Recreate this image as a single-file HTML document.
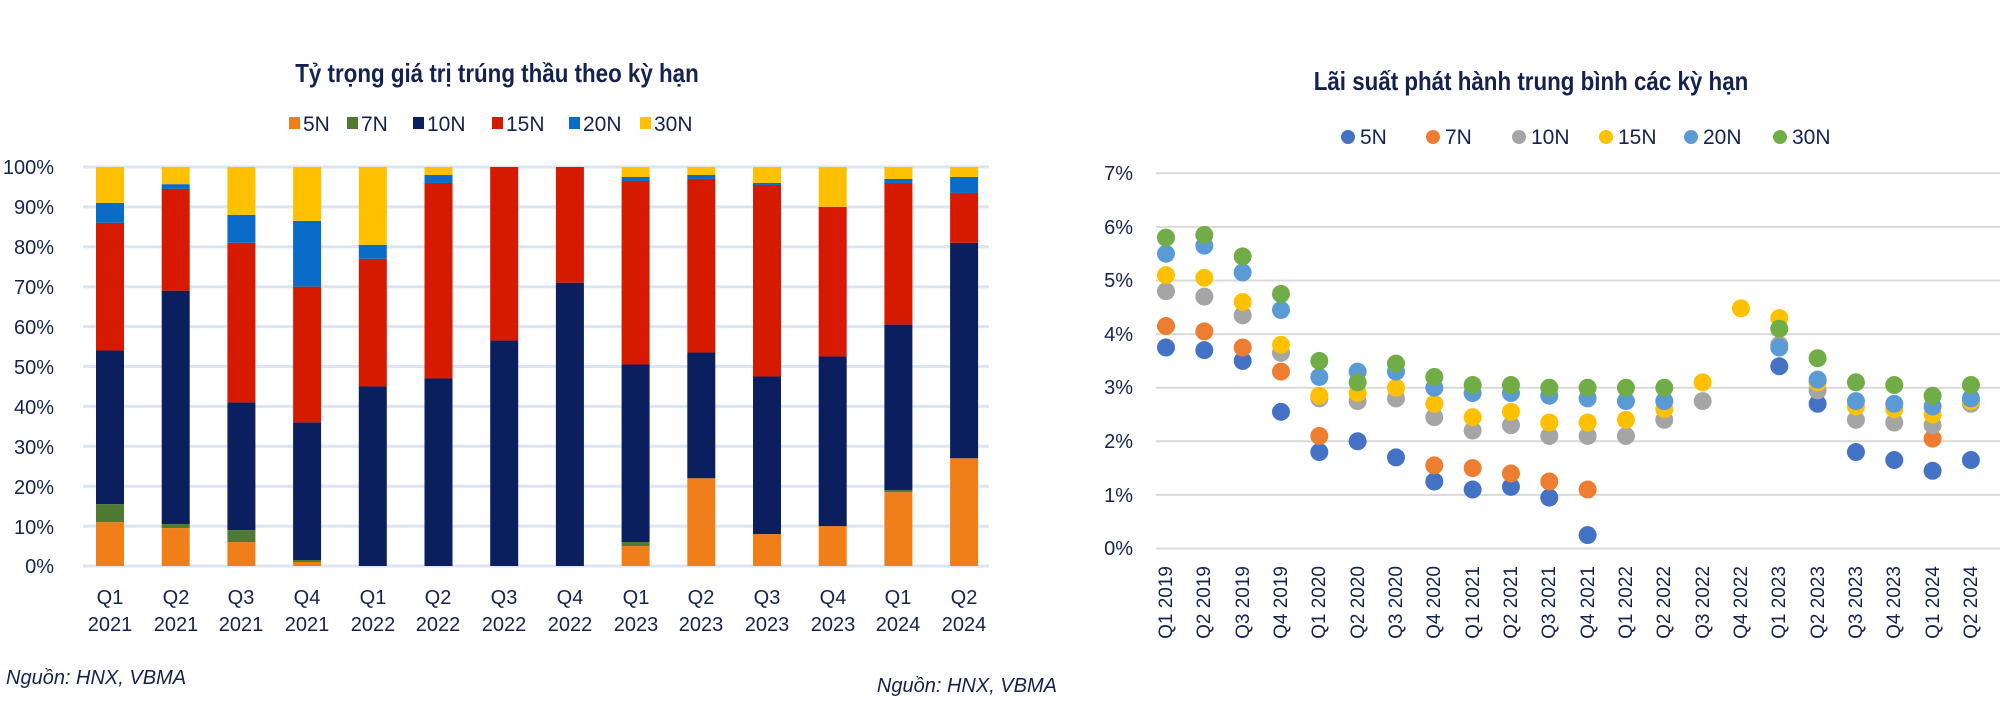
<!DOCTYPE html>
<html><head><meta charset="utf-8"><style>
body{margin:0;background:#fff;}
svg{display:block;font-family:"Liberation Sans",sans-serif;}
text{fill:#14224f;}
</style></head><body>
<svg id="s" width="2000" height="714" viewBox="0 0 2000 714" xmlns="http://www.w3.org/2000/svg">
<rect width="2000" height="714" fill="#fff"/>
<g id="grid"></g>
<text x="497" y="82" font-size="26" font-weight="bold" text-anchor="middle" transform="translate(497 0) scale(0.86 1) translate(-497 0)">Tỷ trọng giá trị trúng thầu theo kỳ hạn</text>
<g font-size="21">
<rect x="289" y="117" width="11" height="12" fill="#F07F1A"/><text x="303" y="131">5N</text>
<rect x="347" y="117" width="11" height="12" fill="#4E7B31"/><text x="361" y="131">7N</text>
<rect x="413" y="117" width="11" height="12" fill="#0B1F5E"/><text x="427" y="131">10N</text>
<rect x="492" y="117" width="11" height="12" fill="#D61A00"/><text x="506" y="131">15N</text>
<rect x="569" y="117" width="11" height="12" fill="#0A6CC8"/><text x="583" y="131">20N</text>
<rect x="640" y="117" width="11" height="12" fill="#FFC000"/><text x="654" y="131">30N</text>
</g>
<g font-size="20" text-anchor="end">
<text x="54" y="174">100%</text><text x="54" y="214">90%</text><text x="54" y="254">80%</text><text x="54" y="294">70%</text><text x="54" y="334">60%</text><text x="54" y="374">50%</text><text x="54" y="414">40%</text><text x="54" y="454">30%</text><text x="54" y="494">20%</text><text x="54" y="534">10%</text><text x="54" y="573">0%</text>
</g>
<g font-size="20" text-anchor="middle">
<text x="110" y="604">Q1</text><text x="110" y="631">2021</text>
<text x="176" y="604">Q2</text><text x="176" y="631">2021</text>
<text x="241" y="604">Q3</text><text x="241" y="631">2021</text>
<text x="307" y="604">Q4</text><text x="307" y="631">2021</text>
<text x="373" y="604">Q1</text><text x="373" y="631">2022</text>
<text x="438" y="604">Q2</text><text x="438" y="631">2022</text>
<text x="504" y="604">Q3</text><text x="504" y="631">2022</text>
<text x="570" y="604">Q4</text><text x="570" y="631">2022</text>
<text x="636" y="604">Q1</text><text x="636" y="631">2023</text>
<text x="701" y="604">Q2</text><text x="701" y="631">2023</text>
<text x="767" y="604">Q3</text><text x="767" y="631">2023</text>
<text x="833" y="604">Q4</text><text x="833" y="631">2023</text>
<text x="898" y="604">Q1</text><text x="898" y="631">2024</text>
<text x="964" y="604">Q2</text><text x="964" y="631">2024</text>
</g>
<text x="6" y="684" font-size="20" font-style="italic">Nguồn: HNX, VBMA</text>

<text x="1531" y="90" font-size="26" font-weight="bold" text-anchor="middle" transform="translate(1531 0) scale(0.86 1) translate(-1531 0)">Lãi suất phát hành trung bình các kỳ hạn</text>
<g font-size="21">
<circle cx="1348" cy="137" r="7" fill="#4472C4"/><text x="1360" y="144">5N</text>
<circle cx="1433" cy="137" r="7" fill="#ED7D31"/><text x="1445" y="144">7N</text>
<circle cx="1519" cy="137" r="7" fill="#A5A5A5"/><text x="1531" y="144">10N</text>
<circle cx="1606" cy="137" r="7" fill="#FFC000"/><text x="1618" y="144">15N</text>
<circle cx="1691" cy="137" r="7" fill="#5B9BD5"/><text x="1703" y="144">20N</text>
<circle cx="1780" cy="137" r="7" fill="#70AD47"/><text x="1792" y="144">30N</text>
</g>
<g font-size="20" text-anchor="end">
<text x="1133" y="180">7%</text><text x="1133" y="234">6%</text><text x="1133" y="287">5%</text><text x="1133" y="341">4%</text><text x="1133" y="394">3%</text><text x="1133" y="448">2%</text><text x="1133" y="502">1%</text><text x="1133" y="555">0%</text>
</g>
<g font-size="19" text-anchor="end">
<text transform="translate(1172 566) rotate(-90)">Q1 2019</text>
<text transform="translate(1210 566) rotate(-90)">Q2 2019</text>
<text transform="translate(1249 566) rotate(-90)">Q3 2019</text>
<text transform="translate(1287 566) rotate(-90)">Q4 2019</text>
<text transform="translate(1325 566) rotate(-90)">Q1 2020</text>
<text transform="translate(1364 566) rotate(-90)">Q2 2020</text>
<text transform="translate(1402 566) rotate(-90)">Q3 2020</text>
<text transform="translate(1440 566) rotate(-90)">Q4 2020</text>
<text transform="translate(1479 566) rotate(-90)">Q1 2021</text>
<text transform="translate(1517 566) rotate(-90)">Q2 2021</text>
<text transform="translate(1555 566) rotate(-90)">Q3 2021</text>
<text transform="translate(1594 566) rotate(-90)">Q4 2021</text>
<text transform="translate(1632 566) rotate(-90)">Q1 2022</text>
<text transform="translate(1670 566) rotate(-90)">Q2 2022</text>
<text transform="translate(1709 566) rotate(-90)">Q3 2022</text>
<text transform="translate(1747 566) rotate(-90)">Q4 2022</text>
<text transform="translate(1785 566) rotate(-90)">Q1 2023</text>
<text transform="translate(1824 566) rotate(-90)">Q2 2023</text>
<text transform="translate(1862 566) rotate(-90)">Q3 2023</text>
<text transform="translate(1900 566) rotate(-90)">Q4 2023</text>
<text transform="translate(1939 566) rotate(-90)">Q1 2024</text>
<text transform="translate(1977 566) rotate(-90)">Q2 2024</text>
</g>
<text x="1057" y="692" font-size="20" font-style="italic" text-anchor="end">Nguồn: HNX, VBMA</text>
<g id="bars"></g><g id="dots"></g>
</svg>
<script>
var NS="http://www.w3.org/2000/svg";
function el(p,t,a){var e=document.createElementNS(NS,t);for(var k in a)e.setAttribute(k,a[k]);p.appendChild(e);return e;}
var g=document.getElementById('grid');
for(var i=0;i<=10;i++){var y=566-i*39.9;el(g,'line',{x1:83,x2:989,y1:y,y2:y,stroke:'#dbe5f3','stroke-width':3});}
for(var i=0;i<=7;i++){var y=548.5-i*53.6;el(g,'line',{x1:1156,x2:2000,y1:y,y2:y,stroke:'#d9d9d9','stroke-width':2});}
var cols=['#F07F1A','#4E7B31','#0B1F5E','#D61A00','#0A6CC8','#FFC000'];
var cum=[[11,15.5,54,86,91,100],[9.5,10.5,69,94.5,95.7,100],[6,9,41,81,88,100],[1,1.5,36,70,86.5,100],
[0,0,45,77,80.5,100],[0,0,47,96,98,100],[0,0,56.5,100,100,100],[0,0,71,100,100,100],
[5,6,50.5,96.5,97.5,100],[22,22,53.5,97,98,100],[8,8,47.5,95.5,96,100],[10,10,52.5,90,90,100],
[18.5,19,60.5,96,97,100],[27,27,81,93.5,97.5,100]];
var b=document.getElementById('bars');
cum.forEach(function(c,i){var x=110+i*65.7-14,prev=0;c.forEach(function(v,j){if(v>prev){var y1=566-v*3.99,y0=566-prev*3.99;el(b,'rect',{x:x,y:y1,width:28,height:y0-y1,fill:cols[j]});}prev=v;});});
var dc=['#4472C4','#ED7D31','#A5A5A5','#FFC000','#5B9BD5','#70AD47'];
var N=null;
var d=[
[3.75,3.7,3.5,2.55,1.8,2.0,1.7,1.25,1.1,1.15,0.95,0.25,N,N,N,N,3.4,2.7,1.8,1.65,1.45,1.65],
[4.15,4.05,3.75,3.3,2.1,N,N,1.55,1.5,1.4,1.25,1.1,N,N,N,N,N,N,N,N,2.05,N],
[4.8,4.7,4.35,3.65,2.8,2.75,2.8,2.45,2.2,2.3,2.1,2.1,2.1,2.4,2.75,N,3.8,2.95,2.4,2.35,2.3,2.7],
[5.1,5.05,4.6,3.8,2.85,2.9,3.0,2.7,2.45,2.55,2.35,2.35,2.4,2.6,3.1,4.48,4.3,3.1,2.65,2.6,2.5,2.75],
[5.5,5.65,5.15,4.45,3.2,3.3,3.3,3.0,2.9,2.9,2.85,2.8,2.75,2.75,N,N,3.75,3.15,2.75,2.7,2.65,2.8],
[5.8,5.85,5.45,4.75,3.5,3.1,3.45,3.2,3.05,3.05,3.0,3.0,3.0,3.0,N,N,4.1,3.55,3.1,3.05,2.85,3.05]];
var dg=document.getElementById('dots');
d.forEach(function(s,j){s.forEach(function(v,i){if(v!==null)el(dg,'circle',{cx:1172+i*38.33-6,cy:548.5-v*53.6,r:9,fill:dc[j]});});});
</script>
</body></html>
